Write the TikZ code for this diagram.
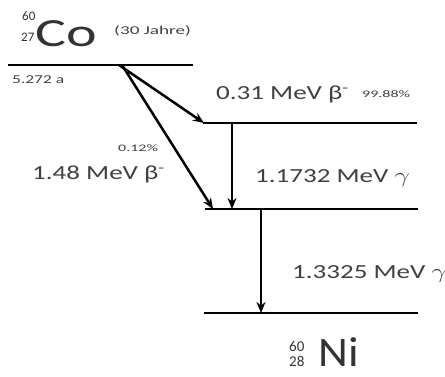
\documentclass[tikz,border=0pt]{standalone}
\usepackage{fontspec}
\usepackage{graphicx}
\setmainfont{Carlito}
\usetikzlibrary{arrows.meta}
\newcommand\widetxt[2]{\scalebox{#1}[1]{#2}}
\begin{document}
\begin{tikzpicture}[x=1pt,y=-1pt,
  level/.style={line width=2.7pt},
  trans/.style={line width=2.5pt,-{Stealth[length=11pt,width=9pt]}},
  lbl/.style={font=\fontsize{20}{20}\selectfont,text=black!75,inner sep=0pt,anchor=base west},
  small/.style={font=\fontsize{10}{10}\selectfont,text=black!75,inner sep=0pt,anchor=base west}]
\useasboundingbox (0,0) rectangle (445,377);
% levels
\coordinate (coL) at (8,65); \coordinate (coR) at (193,65);
\coordinate (l2L) at (203,123); \coordinate (l2R) at (417,123);
\coordinate (l3L) at (205,209); \coordinate (l3R) at (418,209);
\coordinate (niL) at (204,313); \coordinate (niR) at (418,313);
\draw[level] (coL) -- (coR);
\draw[level] (l2L) -- (l2R);
\draw[level] (l3L) -- (l3R);
\draw[level] (niL) -- (niR);
% transitions
\coordinate (b1s) at (119,65); \coordinate (b1e) at (204,123);
\coordinate (b2s) at (122,65); \coordinate (b2e) at (213,209);
\coordinate (g1s) at (232,123); \coordinate (g1e) at (232,209);
\coordinate (g2s) at (261,209); \coordinate (g2e) at (261,313);
\draw[trans] (b1s) -- (b1e);
\draw[trans] (b2s) -- (b2e);
\draw[trans] (g1s) -- (g1e);
\draw[trans] (g2s) -- (g2e);
% Co label
\node[inner sep=0pt,font=\fontsize{13}{13}\selectfont,text=black!80,anchor=base west] (coA) at (22,21) {60};
\node[inner sep=0pt,font=\fontsize{13}{13}\selectfont,text=black!80,anchor=base west] (coZ) at (21,42) {27};
\node[inner sep=0pt,font=\fontsize{40}{40}\selectfont,text=black!80,anchor=base west] (co) at (35,47) {\widetxt{1.45}{Co}};
\node[small,font=\fontsize{12}{12}\selectfont] (half) at (114,35) {\widetxt{1.6}{(30 Jahre)}};
\node[small,font=\fontsize{12}{12}\selectfont] (en) at (12,84) {\widetxt{1.45}{5.272 a}};
% labels
\node[lbl] (t1) at (216,100) {\widetxt{1.35}{0.31 MeV β\textsuperscript{-}}};
\node[small] (p1) at (362,98) {\widetxt{1.6}{99.88\%}};
\node[small] (p2) at (118,152) {\widetxt{1.6}{0.12\%}};
\node[lbl] (t2) at (32,180) {\widetxt{1.35}{1.48 MeV β\textsuperscript{-}}};
\node[lbl] (t3) at (255,183) {\widetxt{1.35}{1.1732 MeV $\gamma$}};
\node[lbl] (t4) at (292,278) {\widetxt{1.35}{1.3325 MeV $\gamma$}};
% Ni label
\node[inner sep=0pt,font=\fontsize{15}{15}\selectfont,text=black!80,anchor=base west] (niA) at (289,351) {60};
\node[inner sep=0pt,font=\fontsize{15}{15}\selectfont,text=black!80,anchor=base west] (niZ) at (289,366) {28};
\node[inner sep=0pt,font=\fontsize{42}{42}\selectfont,text=black!80,anchor=base west] (ni) at (318,366) {\widetxt{1.1}{Ni}};
\end{tikzpicture}
\end{document}
